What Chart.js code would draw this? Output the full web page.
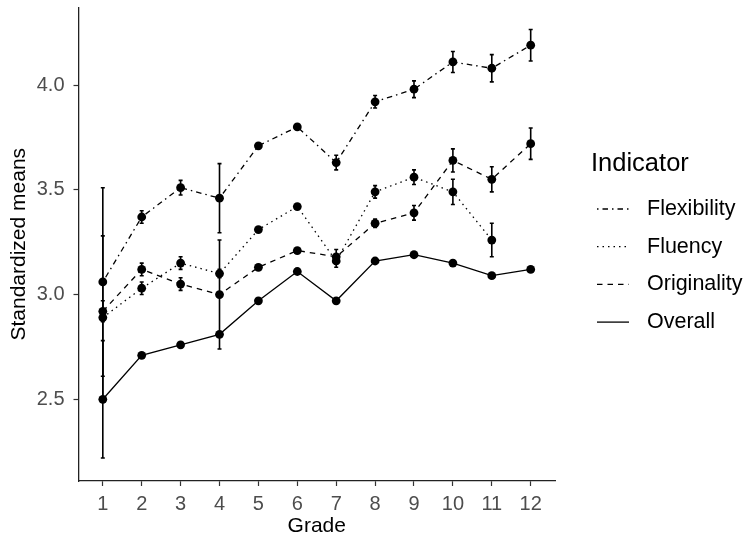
<!DOCTYPE html>
<html>
<head>
<meta charset="utf-8">
<script src="https://cdn.jsdelivr.net/npm/chart.js@4.4.1/dist/chart.umd.min.js"></script>
<style>
  html, body { margin: 0; padding: 0; background: #fff; }
</style>
</head>
<body>
<canvas id="chart" width="746" height="539"></canvas>
<script>
var grades = [1, 2, 3, 4, 5, 6, 7, 8, 9, 10, 11, 12];
var yTicks = [2.5, 3.0, 3.5, 4.0];
var legendTitle = 'Indicator';

var flexibility    = [3.06, 3.37, 3.51, 3.46, 3.71, 3.80, 3.63, 3.92, 3.98, 4.11, 4.08, 4.19];
var flexibilityErr = [0.45, 0.03, 0.035, 0.165, 0.01, 0.01, 0.035, 0.03, 0.04, 0.05, 0.065, 0.075];
var fluency        = [2.89, 3.03, 3.15, 3.10, 3.31, 3.42, 3.16, 3.49, 3.56, 3.49, 3.26, null];
var fluencyErr     = [0.39, 0.03, 0.03, 0.02, 0.01, 0.01, 0.03, 0.03, 0.035, 0.06, 0.08, null];
var originality    = [2.92, 3.12, 3.05, 3.00, 3.13, 3.21, 3.18, 3.34, 3.39, 3.64, 3.55, 3.72];
var originalityErr = [0.05, 0.03, 0.03, 0.26, 0.01, 0.01, 0.035, 0.02, 0.035, 0.055, 0.06, 0.075];
var overall        = [2.50, 2.71, 2.76, 2.81, 2.97, 3.11, 2.97, 3.16, 3.19, 3.15, 3.09, 3.12];
var overallErr     = [0.28, 0.01, 0.01, 0.01, 0.01, 0.01, 0.01, 0.01, 0.01, 0.01, 0.01, 0.01];

var FONT = '"Liberation Sans", Arial, sans-serif';

function points(values) {
  return grades.map(function(g, i) { return { x: g, y: values[i] }; });
}

function series(label, values, err, dash) {
  return {
    label: label,
    data: points(values),
    err: err,
    borderColor: '#000',
    borderWidth: 1.3,
    borderDash: dash,
    pointRadius: 4.4,
    pointBackgroundColor: '#000',
    pointBorderWidth: 0,
    fill: false,
    tension: 0
  };
}

// vertical error bars with small caps
var errorBars = {
  id: 'errorBars',
  afterDatasetsDraw: function(chart) {
    var ctx = chart.ctx, xs = chart.scales.x, ys = chart.scales.y;
    ctx.save();
    ctx.strokeStyle = '#000';
    ctx.lineWidth = 1.6;
    chart.data.datasets.forEach(function(ds) {
      ds.data.forEach(function(p, i) {
        var e = ds.err[i];
        if (p.y == null || e == null) return;
        var x = xs.getPixelForValue(p.x);
        var top = ys.getPixelForValue(p.y + e);
        var bot = ys.getPixelForValue(p.y - e);
        ctx.beginPath();
        ctx.moveTo(x, top); ctx.lineTo(x, bot);
        ctx.moveTo(x - 2, top); ctx.lineTo(x + 2, top);
        ctx.moveTo(x - 2, bot); ctx.lineTo(x + 2, bot);
        ctx.stroke();
      });
    });
    ctx.restore();
  }
};

// ggplot-style legend to the right of the panel
var sideLegend = {
  id: 'sideLegend',
  afterDraw: function(chart) {
    var ctx = chart.ctx;
    var left = chart.chartArea.right + 36;
    ctx.save();
    ctx.fillStyle = '#000';
    ctx.textAlign = 'left';
    ctx.textBaseline = 'middle';
    ctx.font = '25.5px ' + FONT;
    ctx.fillText(legendTitle, left, 164);
    chart.data.datasets.forEach(function(ds, i) {
      var y = 209 + i * 37.7;
      ctx.strokeStyle = ds.borderColor;
      ctx.lineWidth = ds.borderWidth;
      ctx.setLineDash(ds.borderDash);
      ctx.beginPath();
      ctx.moveTo(left + 6, y);
      ctx.lineTo(left + 38, y);
      ctx.stroke();
      ctx.setLineDash([]);
      ctx.font = '21.5px ' + FONT;
      ctx.fillText(ds.label, left + 56, y);
    });
    ctx.restore();
  }
};

var axisGrid = { display: true, drawOnChartArea: false, drawTicks: true, tickLength: 5, color: '#333', tickWidth: 1.2 };
var axisBorder = { display: true, color: '#222', width: 1.3 };

var ctx = document.getElementById('chart').getContext('2d');
var chart = new Chart(ctx, {
  type: 'line',
  data: {
    datasets: [
      series('Flexibility', flexibility, flexibilityErr, [1.5, 4, 5.5, 4]),
      series('Fluency', fluency, fluencyErr, [1.5, 4]),
      series('Originality', originality, originalityErr, [5.5, 5]),
      series('Overall', overall, overallErr, [])
    ]
  },
  options: {
    responsive: false,
    devicePixelRatio: 1,
    animation: false,
    layout: { padding: { top: 7.5, right: 191, bottom: 0, left: 0 } },
    plugins: {
      legend: { display: false },
      tooltip: { enabled: false }
    },
    scales: {
      x: {
        type: 'linear',
        min: 0.375,
        max: 12.625,
        afterBuildTicks: function(s) { s.ticks = grades.map(function(v) { return { value: v }; }); },
        afterFit: function(s) { s.height = 58; s.paddingLeft = 0; s.paddingRight = 0; },
        ticks: {
          color: '#4d4d4d',
          font: { family: FONT, size: 20 },
          padding: 6,
          autoSkip: false,
          maxRotation: 0,
          callback: function(v) { return String(v); }
        },
        grid: axisGrid,
        border: axisBorder,
        title: {
          display: true,
          text: 'Grade',
          color: '#000',
          font: { family: FONT, size: 21, lineHeight: 1 },
          padding: { top: 0, bottom: 2 }
        }
      },
      y: {
        type: 'linear',
        min: 2.11,
        max: 4.37,
        afterBuildTicks: function(s) { s.ticks = yTicks.map(function(v) { return { value: v }; }); },
        afterFit: function(s) { s.width = 78.5; s.paddingTop = 0; s.paddingBottom = 0; },
        ticks: {
          color: '#4d4d4d',
          font: { family: FONT, size: 20 },
          padding: 9,
          callback: function(v) { return v.toFixed(1); }
        },
        grid: axisGrid,
        border: axisBorder,
        title: {
          display: true,
          text: 'Standardized means',
          color: '#000',
          font: { family: FONT, size: 21, lineHeight: 1.2 },
          padding: { top: 7, bottom: 0 }
        }
      }
    }
  },
  plugins: [errorBars, sideLegend]
});
</script>
</body>
</html>
